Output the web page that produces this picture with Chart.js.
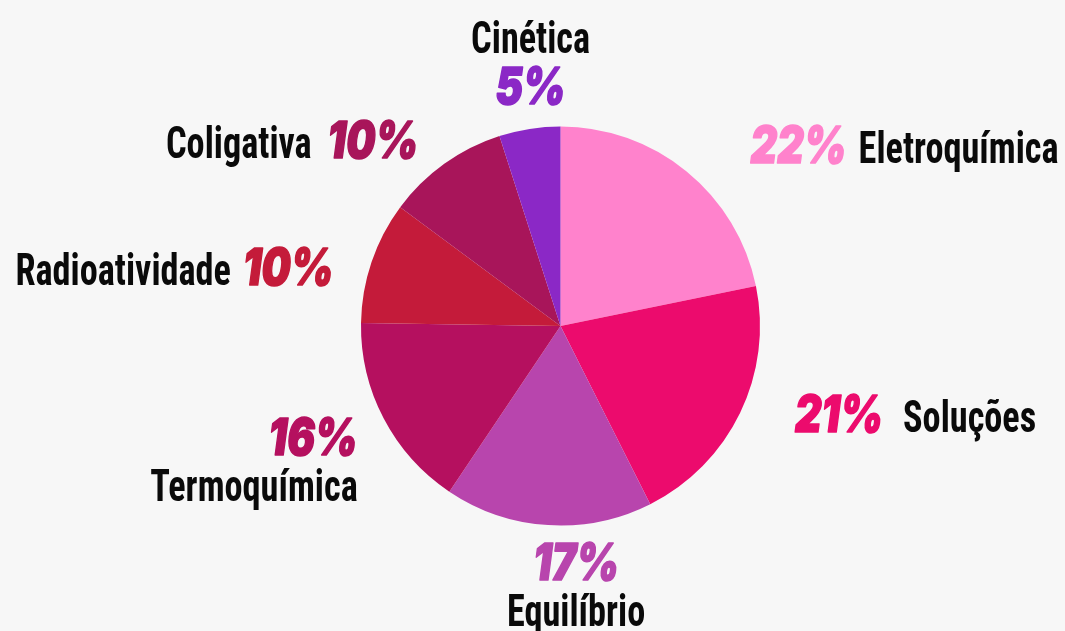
<!DOCTYPE html>
<html>
<head>
<meta charset="utf-8">
<script src="https://cdn.jsdelivr.net/npm/chart.js@4.4.1/dist/chart.umd.min.js"></script>
<style>
  html, body { margin: 0; padding: 0; background: #f7f7f7; }
  #wrap { width: 1065px; height: 631px; }
</style>
</head>
<body>
<div id="wrap"><canvas id="pieChart" width="1065" height="631"></canvas></div>
<script>
// data, clockwise from 12 o'clock
const topics = ['Eletroquímica', 'Soluções', 'Equilíbrio', 'Termoquímica', 'Radioatividade', 'Coligativa', 'Cinética'];
const shares = [22, 21, 17, 16, 10, 10, 5];
const shareLabels = ['22%', '21%', '17%', '16%', '10%', '10%', '5%'];
const sliceColors = ['#ff82cc', '#ec0b6d', '#b845ad', '#b5105f', '#c41b3a', '#a8155a', '#8b28c6'];

// how each label is laid out around its slice (offset from the slice's outer mid point)
// pr = percent then name, np = name then percent (right aligned),
// stack = percent above name, cap = name above percent
const labelLayout = [
  { mode: 'pr', dx: 64, dy: -8, space: 12 },
  { mode: 'pr', dx: 55, dy: 19, space: 20 },
  { mode: 'stack', dx: 28, dy: 55, align: 'center', gap: 46 },
  { mode: 'stack', dx: -26, dy: 36, align: 'right', gap: 46 },
  { mode: 'np', dx: -38, dy: 23, space: 12 },
  { mode: 'np', dx: -26, dy: -6, space: 16 },
  { mode: 'cap', dx: 1, dy: -25, align: 'center', gap: -51 }
];

const nameFont = 'bold 44px "Roboto Condensed", "DejaVu Sans Condensed", sans-serif';
const pctFont = 'italic 900 51px Inter, "Noto Sans", sans-serif';
let nameSquash = 1, pctSquash = 1;

function fitScales(ctx) {
  // squeeze the installed fonts to the width of the picture's lettering
  ctx.font = nameFont;
  nameSquash = 200 / ctx.measureText('Eletroquímica').width;
  ctx.font = pctFont;
  pctSquash = 96 / ctx.measureText('22%').width;
}

function nameWidth(ctx, s) {
  ctx.font = nameFont;
  return ctx.measureText(s).width * nameSquash;
}
function pctWidth(ctx, s) {
  ctx.font = pctFont;
  return ctx.measureText(s).width * pctSquash;
}
function drawText(ctx, s, x, y, font, squash, color, heavy) {
  ctx.save();
  ctx.font = font;
  ctx.fillStyle = color;
  ctx.textAlign = 'left';
  ctx.textBaseline = 'alphabetic';
  ctx.translate(x, y);
  ctx.scale(squash, 1);
  if (heavy) {
    ctx.strokeStyle = color;
    ctx.lineWidth = 1.6;
    ctx.lineJoin = 'round';
    ctx.strokeText(s, 0, 0);
  }
  ctx.fillText(s, 0, 0);
  ctx.restore();
}

const sliceLabels = {
  id: 'sliceLabels',
  afterDatasetsDraw(chart) {
    const ctx = chart.ctx;
    fitScales(ctx);
    const arcs = chart.getDatasetMeta(0).data;
    arcs.forEach((arc, i) => {
      const p = arc.getProps(['x', 'y', 'startAngle', 'endAngle', 'outerRadius'], true);
      const mid = (p.startAngle + p.endAngle) / 2;
      const L = labelLayout[i];
      const ax = p.x + Math.cos(mid) * p.outerRadius + L.dx;
      const ay = p.y + Math.sin(mid) * p.outerRadius + L.dy;
      const name = topics[i], pct = shareLabels[i], col = sliceColors[i];
      const pw = pctWidth(ctx, pct), nw = nameWidth(ctx, name);
      if (L.mode === 'pr') {
        drawText(ctx, pct, ax, ay, pctFont, pctSquash, col, true);
        drawText(ctx, name, ax + pw + L.space, ay, nameFont, nameSquash, '#0a0a0a');
      } else if (L.mode === 'np') {
        drawText(ctx, pct, ax - pw, ay, pctFont, pctSquash, col, true);
        drawText(ctx, name, ax - pw - L.space - nw, ay, nameFont, nameSquash, '#0a0a0a');
      } else {
        const px = L.align === 'center' ? ax - pw / 2 : ax - pw;
        const nx = L.align === 'center' ? ax - nw / 2 : ax - nw;
        drawText(ctx, pct, px, ay, pctFont, pctSquash, col, true);
        drawText(ctx, name, nx, ay + L.gap, nameFont, nameSquash, '#0a0a0a');
      }
    });
  }
};

async function start() {
  try {
    await document.fonts.load(nameFont, 'Eletroquímica');
    await document.fonts.load(pctFont, '22%');
  } catch (e) {}
  new Chart(document.getElementById('pieChart'), {
    type: 'pie',
    data: {
      labels: topics,
      datasets: [{
        data: shares,
        backgroundColor: sliceColors,
        borderWidth: 0
      }]
    },
    options: {
      responsive: false,
      animation: false,
      layout: { padding: { left: 361, right: 305, top: 126, bottom: 105 } },
      plugins: {
        legend: { display: false },
        tooltip: { enabled: false }
      }
    },
    plugins: [sliceLabels]
  });
}
start();
</script>
</body>
</html>
